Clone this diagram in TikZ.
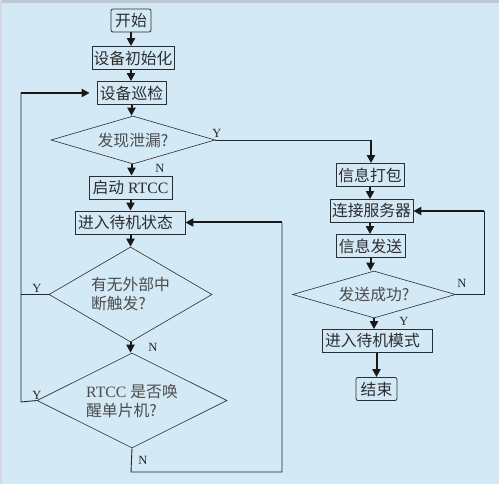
\documentclass[tikz,border=0pt]{standalone}
\usepackage{fontspec}
\setmainfont{Liberation Serif}
\newfontfamily\cjk{Noto Sans CJK SC}
\usepackage{tikz}
\usetikzlibrary{shapes.geometric, arrows.meta, positioning, calc}

\definecolor{bgblue}{RGB}{211,233,245}
\definecolor{framegray}{RGB}{190,200,208}
\definecolor{inkgray}{RGB}{45,45,45}

\begin{document}
\begin{tikzpicture}[
  x=1pt, y=-1pt,
  font=\fontsize{15.8pt}{19pt}\selectfont,
  % Box styles
  proc/.style={draw=inkgray, fill=bgblue, minimum height=23pt, inner sep=1pt,
               text=inkgray, line width=0.8pt},
  term/.style={proc, rounded corners=2pt},
  wide/.style={proc, text width=104pt, align=left, inner xsep=3pt},
  decide/.style={diamond, draw=inkgray, fill=bgblue, inner sep=0pt, align=left,
                 text=black!70, line width=0.6pt, shape aspect=3.4},
  tall/.style={decide, shape aspect=2},
  link/.style={line width=0.9pt, draw=black!85},
  arrow/.style={-{Triangle[length=8pt, width=8pt]}, line width=2pt, draw=black!90},
  tag/.style={font=\fontsize{12.5pt}{12.5pt}\selectfont, text=black!85, inner sep=0pt},
]

% ---- background ----
\useasboundingbox (0,0) rectangle (499,484);
\fill[bgblue] (0,0) rectangle (499,484);
\fill[framegray] (0,0) rectangle (499,3);
\fill[framegray!70] (0,0) rectangle (2,484);

% ---- LEFT COLUMN ----
\node[term]  (start)   at (131,20.5)  [minimum width=40pt] {\cjk 开始};
\node[proc]  (init)    at (133,58)    [minimum width=82pt] {\cjk 设备初始化};
\node[proc]  (patrol)  at (131.5,93)  [minimum width=69pt] {\cjk 设备巡检};
\node[decide] (leak)   at (133,140)   [minimum width=164pt, minimum height=48pt] {\cjk 发现泄漏?};
\node[proc]  (rtcc)    at (130.5,187.5) [minimum width=83pt] {{\cjk 启动} RTCC};
\node[wide]  (standby) at (130,222.5) {\cjk 进入待机状态};
\node[tall]  (intr)    at (130.5,294.5) [minimum width=163pt, minimum height=95pt]
      {\cjk 有无外部中\\\cjk 断触发?};
\node[tall]  (wake)    at (132,400.5) [minimum width=190pt, minimum height=95pt]
      {RTCC {\cjk 是否唤}\\\cjk 醒单片机?};

% ---- RIGHT COLUMN ----
\node[proc]  (pack)   at (370,175)    [minimum width=68pt] {\cjk 信息打包};
\node[proc]  (conn)   at (371.5,211)  [minimum width=83pt] {\cjk 连接服务器};
\node[proc]  (send)   at (370.5,246)  [minimum width=69pt] {\cjk 信息发送};
\node[decide] (ok)    at (374,294.5)  [minimum width=163pt, minimum height=47pt] {\cjk 发送成功?};
\node[wide]  (mode)   at (377,341)    {\cjk 进入待机模式};
\node[term]  (finish) at (376.5,389)  [minimum width=41pt] {\cjk 结束};

% ---- straight arrows ----
\draw[arrow] (start.south)  -- (start.south |- init.north);
\draw[arrow] (start.south |- init.south) -- (start.south |- patrol.north);
\draw[arrow] (patrol.south) -- (patrol.south |- leak.north);
\draw[arrow] (patrol.south |- leak.south) -- (patrol.south |- rtcc.north);
\draw[arrow] (rtcc.south)   -- (rtcc.south |- standby.north);
\draw[arrow] (rtcc.south |- standby.south) -- (rtcc.south |- intr.north);
\draw[arrow] (intr.south)   -- (intr.south |- wake.north);

\draw[arrow] (pack.south)   -- (pack.south |- conn.north);
\draw[arrow] (pack.south |- conn.south) -- (pack.south |- send.north);
\draw[arrow] (send.south)   -- (send.south |- ok.north);
\draw[arrow] (ok.south)     -- (ok.south |- mode.north);
\draw[arrow] (finish.north |- mode.south) -- (finish.north);

% ---- leak found -> pack ----
\coordinate (yturn) at (371,140);
\draw[link] (leak.east) -- (yturn);
\draw[arrow] (yturn) -- (yturn |- pack.north);

% ---- left loop back to patrol ----
\coordinate (lbot) at (21,402);
\coordinate (lmid) at (21,294.5);
\coordinate (ltop) at (21,93);
\draw[link] (wake.west) -- (lbot) -- (ltop);
\draw[link] (intr.west) -- (lmid);
\draw[arrow, shorten >=7pt] (ltop) -- (patrol.west);

% ---- wake N -> standby ----
\coordinate (b1) at (131,472);
\coordinate (b2) at (282,472);
\coordinate (b3) at (282,222.5);
\draw[link] (wake.south) -- (b1) -- (b2) -- (b3);
\draw[arrow] (b3) -- (standby.east);

% ---- send failed -> reconnect ----
\coordinate (r1) at (484,294.5);
\coordinate (r2) at (484,211);
\draw[link] (ok.east) -- (r1) -- (r2);
\draw[arrow] (r2) -- (conn.east);

% ---- Y / N tags ----
\node[tag] at (217,133) {Y};
\node[tag] at (160,168) {N};
\node[tag] at (37,288)  {Y};
\node[tag] at (153,347) {N};
\node[tag] at (37,395)  {Y};
\node[tag] at (143,460) {N};
\node[tag] at (462,283) {N};
\node[tag] at (404,321) {Y};

\end{tikzpicture}
\end{document}
